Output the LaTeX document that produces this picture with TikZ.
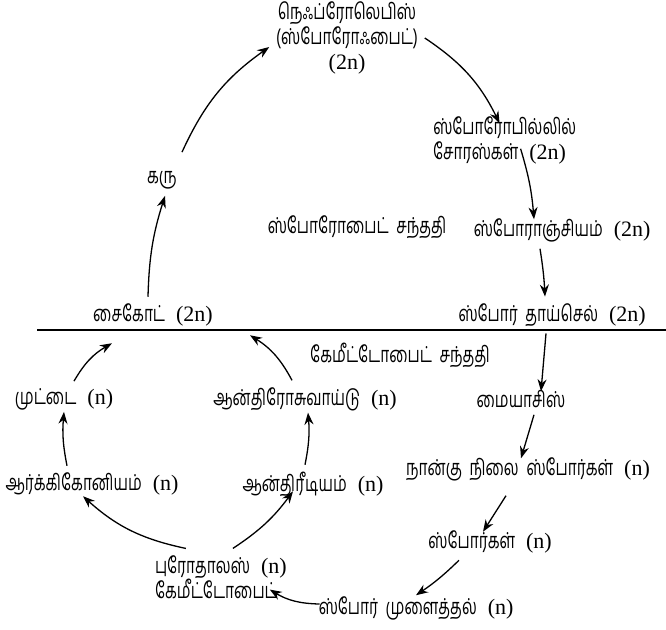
\documentclass[tikz,border=0pt]{standalone}
\usepackage{fontspec}
\setmainfont{Liberation Serif}
\newfontfamily\tamilfont[Script=Tamil, FakeStretch=0.7]{Hind Madurai}
\usepackage{tikz}
\usetikzlibrary{arrows.meta, positioning}
\newcommand{\tm}[1]{{\tamilfont #1}}
\tikzset{
  stage/.style={inner sep=2pt, outer sep=5pt, font=\fontsize{22}{25}\selectfont},
  lifearrow/.style={->, line width=1.3pt},
}

\begin{document}
\begin{tikzpicture}[>={Stealth[length=12pt, width=9pt]}, x=1pt, y=-1pt]
  \useasboundingbox (0,0) rectangle (666,629);

  % sporophyte generation (above the line)
  \node[stage, align=center] (neph) at (347,38)
    {\tm{நெஃப்ரோலெபிஸ்}\\\tm{(ஸ்போரோஃபைட்)}\\(2n)};
  \node[stage, align=left, anchor=west] (sporophyll) at (426,140)
    {\tm{ஸ்போரோபில்லில்}\\\tm{சோரஸ்கள்}\ \ (2n)};
  \node[stage] (karu) at (162,180) {\tm{கரு}};
  \node[stage] (sporogen) at (357,227) {\tm{ஸ்போரோபைட்\ \ சந்ததி}};
  \node[stage] (sporangium) at (562,230) {\tm{ஸ்போராஞ்சியம்}\ \ (2n)};
  \node[stage] (zygote) at (153,315) {\tm{சைகோட்}\ \ (2n)};
  \node[stage] (mother) at (552,315) {\tm{ஸ்போர்\ \ தாய்செல்}\ \ (2n)};

  % dividing line
  \draw[line width=2pt] (37,330) -- (666,330);

  % gametophyte generation (below the line)
  \node[stage] (gamgen) at (400,355) {\tm{கேமீட்டோபைட்\ \ சந்ததி}};
  \node[stage] (egg) at (64,399) {\tm{முட்டை}\ \ (n)};
  \node[stage] (antherozoid) at (305,399) {\tm{ஆன்திரோசுவாய்டு}\ \ (n)};
  \node[stage] (meiosis) at (521,399) {\tm{மையாசிஸ்}};
  \node[stage] (archegonium) at (92,484) {\tm{ஆர்க்கிகோனியம்}\ \ (n)};
  \node[stage] (antheridium) at (313,484) {\tm{ஆன்திரீடியம்}\ \ (n)};
  \node[stage] (tetrad) at (528,469) {\tm{நான்கு\ \ நிலை\ \ ஸ்போர்கள்}\ \ (n)};
  \node[stage] (spores) at (490,542) {\tm{ஸ்போர்கள்}\ \ (n)};
  \node[stage, align=left, anchor=west] (prothallus) at (148,577)
    {\tm{புரோதாலஸ்}\ \ (n)\\\tm{கேமீட்டோபைட்}};
  \node[stage] (germ) at (416,608) {\tm{ஸ்போர்\ \ முளைத்தல்}\ \ (n)};

  % sporophyte arrows
  \draw[lifearrow] ([xshift=-5pt]zygote.north) to[bend left=8] ([xshift=3pt]karu.south);
  \draw[lifearrow] ([xshift=20pt, yshift=12pt]karu.north) to[bend left=15] ([yshift=-9pt]neph.west);
  \draw[lifearrow] (neph.east) to[bend left=15] ([xshift=-5pt, yshift=-14pt]sporophyll.north);
  \draw[lifearrow] ([xshift=16pt, yshift=22pt]sporophyll.south) to[bend left=6] ([xshift=-28pt, yshift=-8pt]sporangium.north);
  \draw[lifearrow] ([xshift=-22pt]sporangium.south) to[bend left=3] ([xshift=-7pt]mother.north);

  % spores to gametophyte
  \draw[lifearrow] ([xshift=-6pt]mother.south) -- ([xshift=20pt, yshift=-8pt]meiosis.north);
  \draw[lifearrow] ([xshift=13pt]meiosis.south) -- ([xshift=-7pt, yshift=-8pt]tetrad.north);
  \draw[lifearrow] ([xshift=-22pt, yshift=-8pt]tetrad.south) -- ([xshift=-7pt, yshift=-8pt]spores.north);
  \draw[lifearrow] ([xshift=-31pt]spores.south) to[bend left=5] ([yshift=-6pt]germ.north);
  \draw[lifearrow] ([xshift=8pt, yshift=4pt]germ.west) to[bend left=15] ([xshift=-24pt, yshift=16pt]prothallus.south east);

  % gametophyte arrows
  \draw[lifearrow] ([xshift=-35pt]prothallus.north) to[bend left=15] ([xshift=-9pt, yshift=6pt]archegonium.south);
  \draw[lifearrow] ([xshift=12pt]prothallus.north) to[bend right=10] ([xshift=-20pt, yshift=12pt]antheridium.south);
  \draw[lifearrow] ([xshift=-25pt]archegonium.north) to[bend left=8] ([yshift=5pt]egg.south);
  \draw[lifearrow] ([xshift=-8pt]antheridium.north) to[bend right=8] ([xshift=3pt, yshift=5pt]antherozoid.south);
  \draw[lifearrow] ([xshift=10pt]egg.north) to[bend left=15] ([xshift=-41pt, yshift=-10pt]zygote.south);
  \draw[lifearrow] ([xshift=-13pt]antherozoid.north) to[bend right=15] ([xshift=97pt, yshift=-2pt]zygote.south);
\end{tikzpicture}
\end{document}
